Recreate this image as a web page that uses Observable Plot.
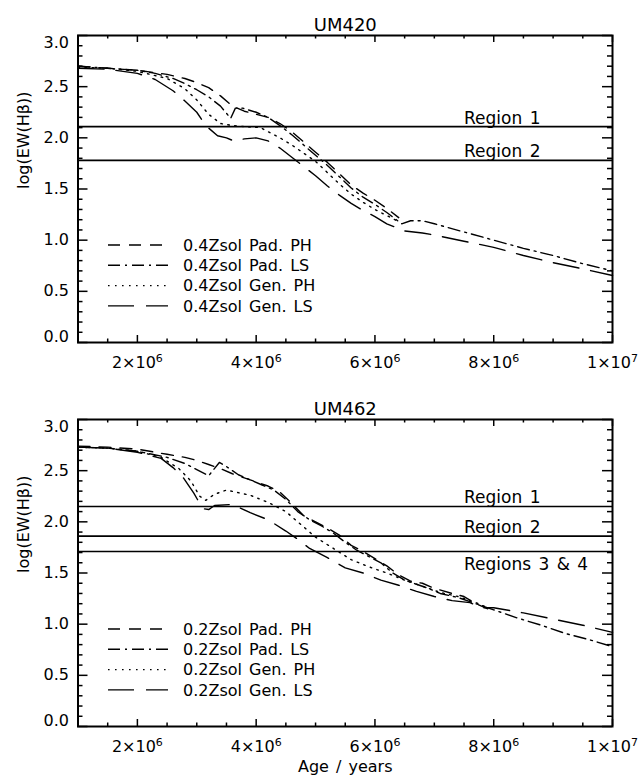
<!DOCTYPE html>
<html><head><meta charset="utf-8">
<script src="https://cdn.jsdelivr.net/npm/d3@7"></script>
<script src="https://cdn.jsdelivr.net/npm/@observablehq/plot@0.6"></script>
<style>
html,body{margin:0;padding:0;background:#fff;}
#chart svg{display:block;}
</style></head><body><div id="chart"></div>
<script>
// ---------- data (ages in Myr, values = log(EW(Hβ))) ----------
const titles = ["UM420", "UM462"];
const legendTop = ["0.4Zsol Pad. PH", "0.4Zsol Pad. LS", "0.4Zsol Gen. PH", "0.4Zsol Gen. LS"];
const legendBottom = ["0.2Zsol Pad. PH", "0.2Zsol Pad. LS", "0.2Zsol Gen. PH", "0.2Zsol Gen. LS"];
const regionsTop = [2.11, 1.78];
const regionLabelsTop = ["Region 1", "Region 2"];
const regionsBottom = [2.15, 1.86, 1.71];
const regionLabelsBottom = ["Region 1", "Region 2", "Regions 3 & 4"];
const xMajorTicks = [2e6, 4e6, 6e6, 8e6, 1e7];
const xMinorTicks = [1.5e6, 2.5e6, 3e6, 3.5e6, 4.5e6, 5e6, 5.5e6, 6.5e6, 7e6, 7.5e6, 8.5e6, 9e6, 9.5e6];
const yMajorTicks = [0, 0.5, 1, 1.5, 2, 2.5, 3];
const yMinorTicks = [0.1,0.2,0.3,0.4,0.6,0.7,0.8,0.9,1.1,1.2,1.3,1.4,1.6,1.7,1.8,1.9,2.1,2.2,2.3,2.4,2.6,2.7,2.8,2.9];

// UM420
const ageT_padPH = [1.0,1.5,2.0,2.5,2.8,3.0,3.2,3.4,3.6,3.8,4.0,4.2,4.4,4.6,4.8,5.0,5.2,5.4,5.6,5.8,6.0,6.2,6.4];
const valT_padPH = [2.70,2.68,2.66,2.62,2.58,2.54,2.49,2.41,2.31,2.26,2.23,2.20,2.14,2.06,1.96,1.86,1.76,1.65,1.54,1.46,1.39,1.31,1.22];
const ageT_padLS = [1.0,1.5,2.0,2.3,2.6,2.8,3.0,3.2,3.4,3.57,3.65,3.77,4.0,4.2,4.4,4.6,4.8,5.0,5.2,5.4,5.6,5.8,6.0,6.2,6.45,6.6,6.8,7.0,7.5,8.0,8.5,9.0,9.5,10.0];
const valT_padLS = [2.70,2.68,2.66,2.63,2.58,2.53,2.47,2.40,2.31,2.19,2.29,2.29,2.25,2.20,2.12,2.03,1.93,1.83,1.73,1.62,1.51,1.42,1.35,1.27,1.16,1.19,1.19,1.16,1.08,1.00,0.92,0.85,0.77,0.70];
const ageT_genPH = [1.0,1.5,2.0,2.5,2.8,3.0,3.2,3.4,3.6,3.8,4.07,4.2,4.4,4.6,4.8,5.0,5.2,5.4,5.6,5.8,6.0,6.2,6.4];
const valT_genPH = [2.69,2.68,2.65,2.58,2.48,2.37,2.23,2.14,2.12,2.11,2.10,2.06,2.00,1.93,1.85,1.77,1.66,1.55,1.45,1.37,1.30,1.24,1.18];
const ageT_genLS = [1.0,1.5,2.0,2.3,2.6,2.8,3.0,3.15,3.35,3.5,3.62,3.8,4.0,4.2,4.4,4.6,4.8,5.0,5.2,5.4,5.6,5.8,6.0,6.2,6.5,6.8,7.0,7.5,8.0,8.5,9.0,9.5,10.0];
const valT_genLS = [2.68,2.67,2.63,2.57,2.46,2.36,2.25,2.12,2.02,2.00,1.97,1.99,2.00,1.97,1.90,1.81,1.72,1.63,1.53,1.44,1.36,1.29,1.23,1.16,1.09,1.07,1.05,0.99,0.93,0.85,0.78,0.72,0.655];

// UM462
const ageB_padPH = [1.0,1.5,2.0,2.5,2.8,3.0,3.2,3.4,3.6,3.8,4.0,4.2,4.4,4.6,4.8,5.0,5.2,5.4,5.6,5.8,6.0,6.2,6.4,6.6,6.8,7.0,7.3,7.5,7.7,7.9];
const valB_padPH = [2.74,2.73,2.71,2.66,2.63,2.60,2.56,2.52,2.47,2.43,2.39,2.35,2.29,2.18,2.06,2.00,1.94,1.87,1.77,1.71,1.64,1.57,1.48,1.42,1.40,1.35,1.30,1.27,1.20,1.15];
const ageB_padLS = [1.0,1.5,2.0,2.5,2.8,3.0,3.2,3.38,3.5,3.7,3.9,4.1,4.3,4.5,4.7,4.9,5.1,5.3,5.5,5.7,5.9,6.1,6.3,6.5,6.7,6.9,7.1,7.4,7.7,8.0,8.4,8.8,9.2,9.6,10.0];
const valB_padLS = [2.73,2.72,2.69,2.63,2.57,2.51,2.45,2.58,2.54,2.46,2.41,2.36,2.31,2.22,2.10,2.02,1.96,1.89,1.80,1.72,1.66,1.60,1.50,1.43,1.39,1.35,1.30,1.26,1.20,1.14,1.06,0.99,0.91,0.85,0.78];
const ageB_genPH = [1.0,1.5,2.0,2.4,2.7,2.9,3.05,3.15,3.3,3.5,3.9,4.2,4.5,4.8,5.0,5.3,5.6,5.9,6.2,6.5,6.8,7.1,7.4,7.7,7.9];
const valB_genPH = [2.73,2.72,2.69,2.63,2.52,2.40,2.25,2.21,2.27,2.31,2.26,2.19,2.10,1.95,1.85,1.74,1.63,1.56,1.50,1.43,1.37,1.31,1.27,1.21,1.16];
const ageB_genLS = [1.0,1.5,2.0,2.4,2.6,2.75,2.95,3.1,3.2,3.3,3.6,3.9,4.2,4.5,4.7,4.9,5.2,5.5,5.8,6.1,6.4,6.7,7.0,7.3,7.6,7.8,8.0,8.5,9.0,9.5,10.0];
const valB_genLS = [2.73,2.72,2.68,2.62,2.53,2.45,2.28,2.13,2.12,2.16,2.17,2.09,2.02,1.91,1.83,1.74,1.65,1.55,1.50,1.43,1.38,1.32,1.27,1.23,1.21,1.16,1.16,1.11,1.05,0.99,0.92];

// ---------- styling ----------
const dashes = ["12,9", "12,5,2,5", "1.6,5.4", "26,12"];
const FONT = "'DejaVu Sans', sans-serif";
const W = 641, ML = 77.5, MR = 29, MT = 35, FRAME_H = 307;
const FRAME_W = W - ML - MR;
const SUP = {"⁶": "6", "⁷": "7"};

function toRows(ages, vals) { return ages.map((a, i) => ({age: a * 1e6, v: vals[i]})); }

function legendMark(labels) {
  return (index, scales, values, dims) => {
    const g = d3.create("svg:g").attr("text-anchor", "start");
    labels.forEach((lab, i) => {
      const y = dims.marginTop + 210 + i * 20.3;
      g.append("line").attr("x1", 108).attr("x2", 168).attr("y1", y).attr("y2", y)
        .attr("stroke", "black").attr("stroke-width", 1.4).attr("stroke-dasharray", dashes[i]);
      g.append("text").attr("x", 183).attr("y", y).attr("dy", "0.36em")
        .attr("text-anchor", "start").attr("fill", "black").text(lab);
    });
    return g.node();
  };
}

function panel({title, series, regions, regionLabels, belowLast, legend, xLabel}) {
  const mb = xLabel ? 53 : 42;
  const height = MT + FRAME_H + mb;
  const fmt = d => d === 1e7 ? "1×10⁷" : `${d / 1e6}×10⁶`;
  const aboveIdx = regions.map((r, i) => i).filter(i => !(belowLast && i === regions.length - 1));
  const belowIdx = belowLast ? [regions.length - 1] : [];
  const marks = [
    ...series.map((s, i) => Plot.line(s, {x: "age", y: "v", stroke: "black", strokeWidth: 1.4, strokeDasharray: dashes[i]})),
    Plot.ruleY(regions, {stroke: "black", strokeWidth: 1.6}),
    Plot.text(aboveIdx, {x: () => 7.5e6, y: i => regions[i], text: i => regionLabels[i], textAnchor: "start", lineAnchor: "bottom", dy: -3, fontSize: 17}),
    Plot.text(belowIdx, {x: () => 7.5e6, y: i => regions[i], text: i => regionLabels[i], textAnchor: "start", lineAnchor: "top", dy: 6, fontSize: 17}),
    Plot.tickX(xMajorTicks, {x: d => d, insetTop: FRAME_H - 7, strokeWidth: 1.5}),
    Plot.tickX(xMajorTicks, {x: d => d, insetBottom: FRAME_H - 7, strokeWidth: 1.5}),
    Plot.tickX(xMinorTicks, {x: d => d, insetTop: FRAME_H - 3.5, strokeWidth: 1.5}),
    Plot.tickX(xMinorTicks, {x: d => d, insetBottom: FRAME_H - 3.5, strokeWidth: 1.5}),
    Plot.tickY(yMajorTicks, {y: d => d, insetRight: FRAME_W - 10, strokeWidth: 1.5}),
    Plot.tickY(yMajorTicks, {y: d => d, insetLeft: FRAME_W - 10, strokeWidth: 1.5}),
    Plot.tickY(yMinorTicks, {y: d => d, insetRight: FRAME_W - 5, strokeWidth: 1.5}),
    Plot.tickY(yMinorTicks, {y: d => d, insetLeft: FRAME_W - 5, strokeWidth: 1.5}),
    Plot.frame({stroke: "black", strokeWidth: 2}),
    Plot.axisX(xMajorTicks, {tickSize: 0, tickPadding: 14, tickFormat: fmt, label: null}),
    Plot.axisY([0.5, 1, 1.5, 2, 2.5], {tickSize: 0, tickPadding: 9, tickFormat: d => d.toFixed(1), label: null}),
    Plot.axisY([3], {tickSize: 0, tickPadding: 9, tickFormat: d => d.toFixed(1), label: null, dy: 7}),
    Plot.axisY([0], {tickSize: 0, tickPadding: 9, tickFormat: d => d.toFixed(1), label: null, dy: -6}),
    Plot.text([title], {frameAnchor: "top", dy: -17, fontSize: 18}),
    Plot.text(["log(EW(Hβ))"], {frameAnchor: "left", dx: -54, rotate: -90}),
    legendMark(legend)
  ];
  if (xLabel) marks.push(Plot.text([xLabel], {frameAnchor: "bottom", dy: 45}));
  const svg = Plot.plot({
    width: W, height,
    marginLeft: ML, marginRight: MR, marginTop: MT, marginBottom: mb,
    x: {type: "linear", domain: [1e6, 1e7]},
    y: {domain: [0, 3]},
    style: {fontFamily: FONT, fontSize: "16px", color: "black", background: "white", wordSpacing: "2px", overflow: "visible"},
    marks
  });
  // render exponents as raised superscripts
  d3.select(svg).selectAll("text").each(function () {
    const t = this.textContent;
    const m = t.match(/^(\d+×10)([⁶⁷])$/);
    if (m && this.children.length === 0) {
      this.textContent = m[1];
      d3.select(this).append("tspan").attr("dy", "-0.5em").attr("font-size", "11px").text(SUP[m[2]]);
    }
  });
  return svg;
}

const panelTop = panel({
  title: titles[0],
  series: [toRows(ageT_padPH, valT_padPH), toRows(ageT_padLS, valT_padLS), toRows(ageT_genPH, valT_genPH), toRows(ageT_genLS, valT_genLS)],
  regions: regionsTop, regionLabels: regionLabelsTop, belowLast: false, legend: legendTop, xLabel: null
});
const panelBottom = panel({
  title: titles[1],
  series: [toRows(ageB_padPH, valB_padPH), toRows(ageB_padLS, valB_padLS), toRows(ageB_genPH, valB_genPH), toRows(ageB_genLS, valB_genLS)],
  regions: regionsBottom, regionLabels: regionLabelsBottom, belowLast: true, legend: legendBottom, xLabel: "Age / years"
});
document.getElementById("chart").append(panelTop, panelBottom);
</script>
</body></html>
